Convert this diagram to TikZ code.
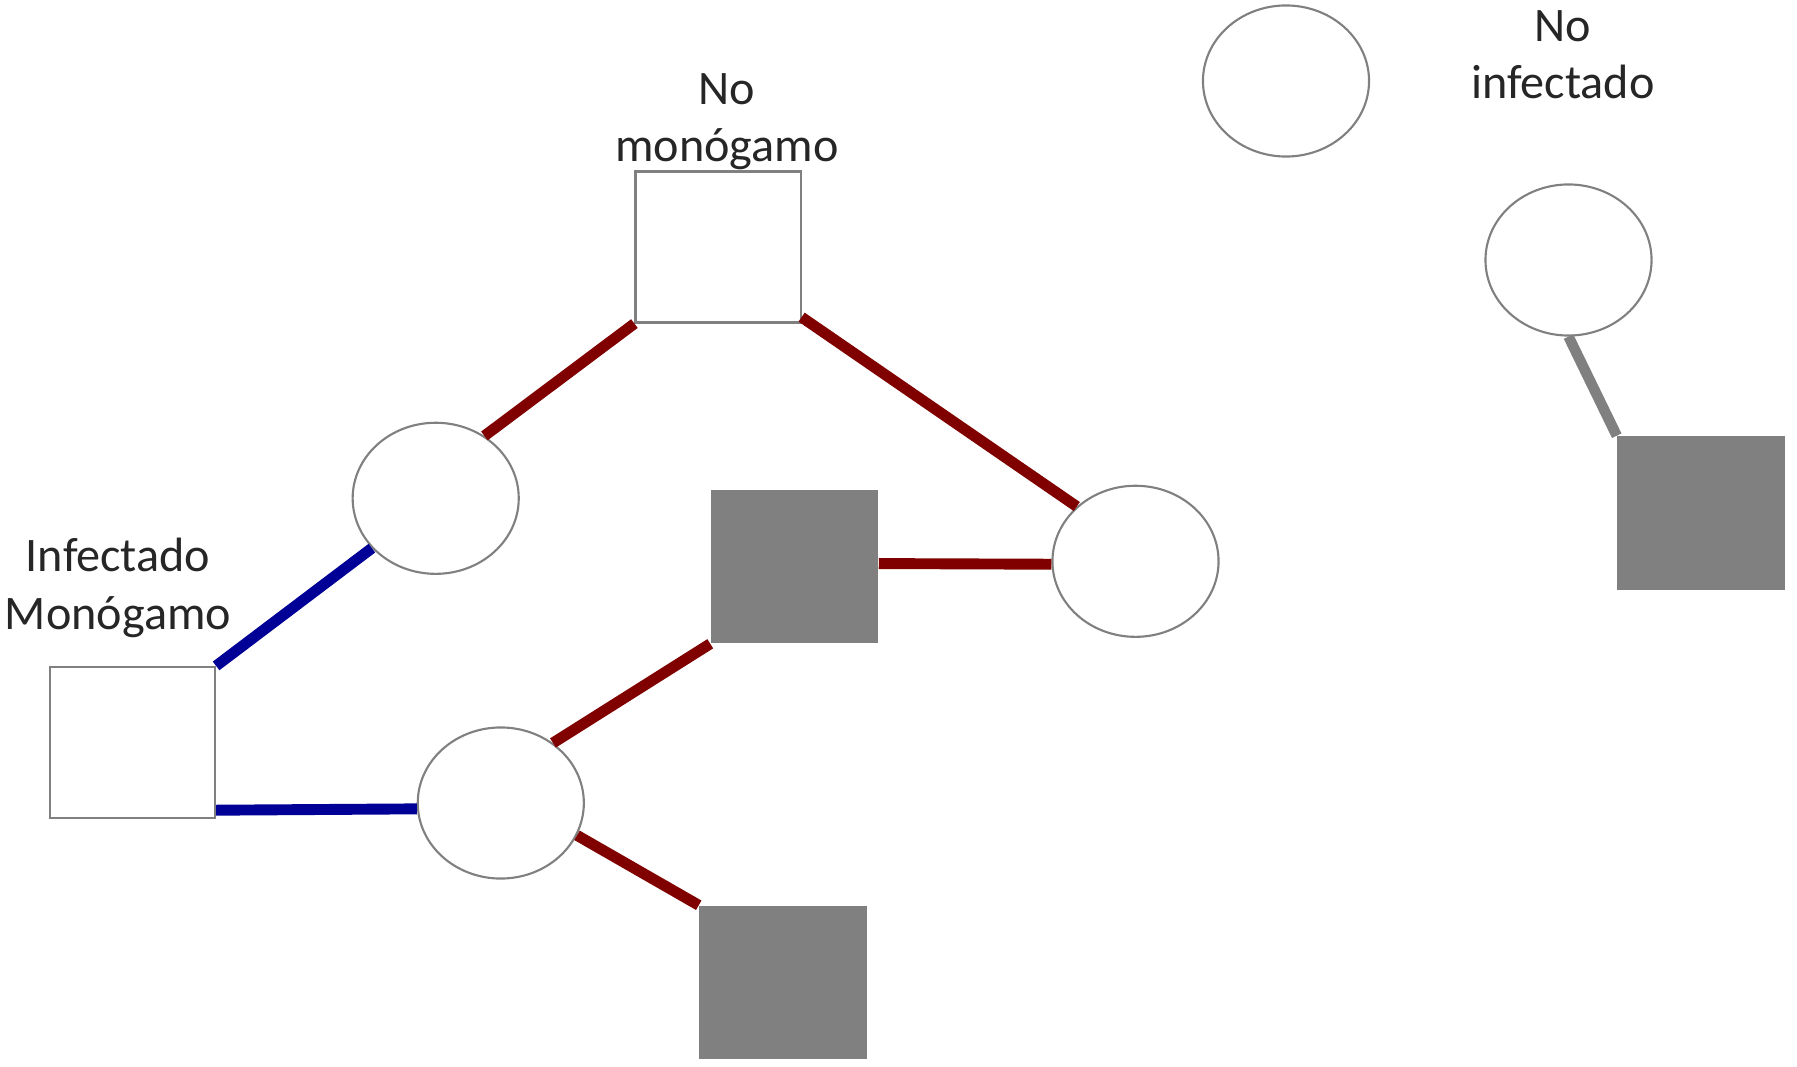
\documentclass[tikz,border=0pt]{standalone}
\usepackage{fontspec}
\setmainfont{Carlito}
\usepackage{tikz}
\usetikzlibrary{shapes.geometric}
\definecolor{linkred}{RGB}{128,0,0}
\definecolor{linkblue}{RGB}{0,0,150}
\definecolor{boxgray}{RGB}{128,128,128}
\definecolor{labelgray}{RGB}{38,38,38}
\tikzset{x=0.01cm,y=-0.01cm}
\tikzset{
    person/.style={ellipse,draw=boxgray,line width=0.6pt,fill=white,
        minimum width=1.66cm,minimum height=1.51cm,inner sep=0pt},
    healthy/.style={rectangle,draw=boxgray,line width=0.6pt,fill=white,
        minimum width=1.65cm,minimum height=1.51cm,inner sep=0pt},
    sick/.style={rectangle,fill=boxgray,
        minimum width=1.67cm,minimum height=1.53cm,inner sep=0pt},
    tag/.style={align=center,text=labelgray,inner sep=0pt,
        font=\fontsize{13.7}{16.3}\selectfont},
    redlink/.style={draw=linkred,line width=3.1pt},
    bluelink/.style={draw=linkblue,line width=3.1pt},
    graylink/.style={draw=boxgray,line width=3pt}
}

\begin{document}
\begin{tikzpicture}
                    \useasboundingbox (0,0) rectangle (1797,1067);
                    % individuals
                    \node[healthy] (mono)   at (132.5,742.5) {};
                    \node[healthy] (poly)   at (718,247)     {};
                    \node[sick]    (s1)     at (794.5,566.5) {};
                    \node[sick]    (s2)     at (783,982.5)   {};
                    \node[sick]    (s3)     at (1701,513)    {};
                    \node[person]  (c1)     at (435.7,498.3) {};
                    \node[person]  (c2)     at (500.8,803)   {};
                    \node[person]  (c3)     at (1135.5,561.3) {};
                    \node[person]  (c4)     at (1286,81)     {};
                    \node[person]  (c5)     at (1568.5,260)  {};
                    % labels
                    \node[tag] (polytag) at (727,121.5)  {No\\monógamo};
                    \node[tag] (monotag) at (118,588)    {Infectado\\Monógamo};
                    \node[tag] (freetag) at (1563,54.5)  {No\\infectado};
                    % contacts
                    \path
                        (mono.north east) edge[bluelink] (c1.218)
                        (mono.-39)        edge[bluelink] (c2.184)
                        (poly.south west) edge[redlink]  (c1.52)
                        (poly.-40)        edge[redlink]  (c3.137)
                        (s1.2)            edge[redlink]  (c3.182)
                        (s1.south west)   edge[redlink]  (c2.49)
                        (c2.-23)          edge[redlink]  (s2.north west)
                        (c5.south)        edge[graylink] (s3.north west);
                \end{tikzpicture}
\end{document}
